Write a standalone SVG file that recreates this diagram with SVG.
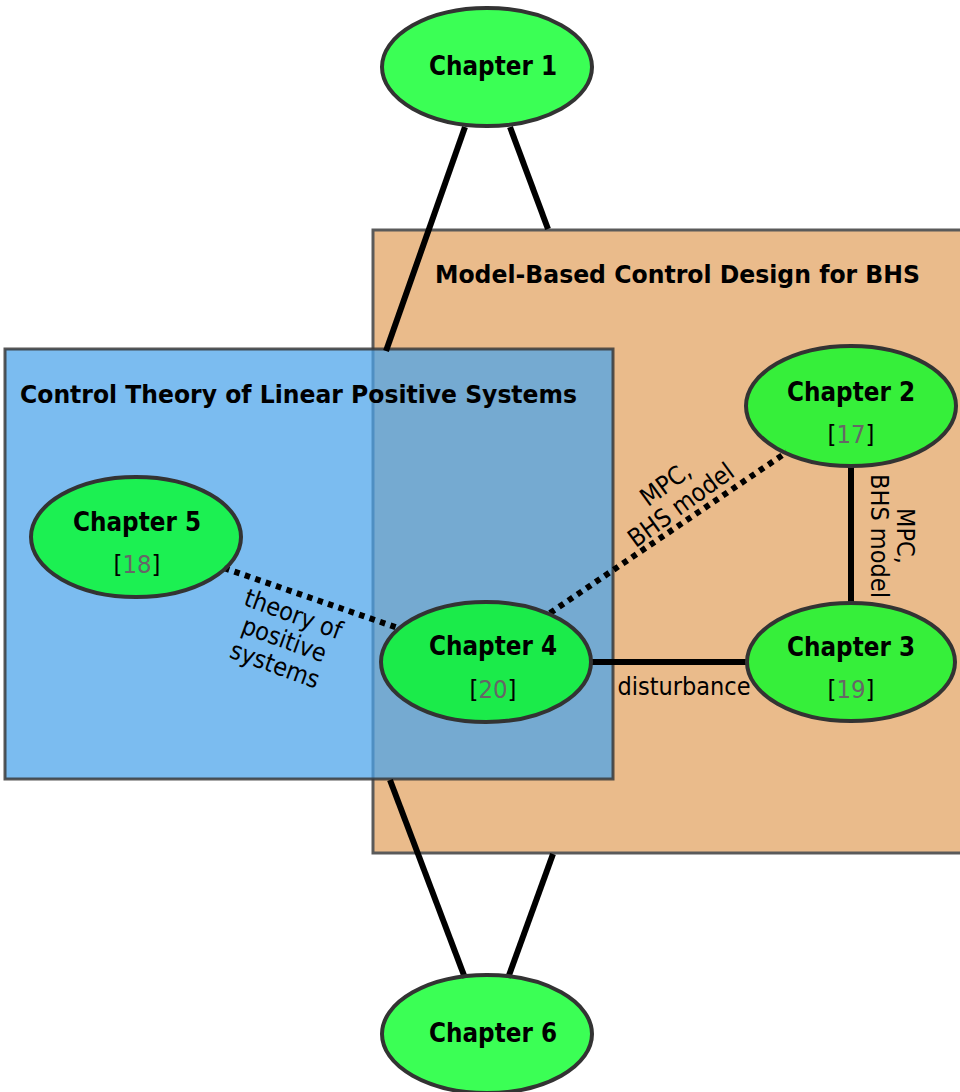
<svg xmlns="http://www.w3.org/2000/svg" width="960" height="1092" viewBox="0 0 960 1092">
  <style>
    .node ellipse { fill: #00ff22; fill-opacity: 0.77; stroke: #333333; stroke-width: 4; }
    .title { font-family: "DejaVu Sans", Verdana, sans-serif; font-weight: bold; font-size: 26px; fill: #000000; text-anchor: middle; }
    .ref { font-family: "DejaVu Sans", Verdana, sans-serif; font-size: 25px; fill: #000000; text-anchor: middle; }
    .ref tspan.num { fill: #666666; }
    .lbl { font-family: "DejaVu Sans", Verdana, sans-serif; font-size: 25px; fill: #000000; text-anchor: middle; }
    .boxtitle { font-family: "DejaVu Sans", Verdana, sans-serif; font-weight: bold; font-size: 25px; fill: #000000; }
    .solid { stroke: #000000; stroke-width: 6; fill: none; }
    .dotted { stroke: #000000; stroke-width: 6; fill: none; stroke-dasharray: 5.5 5.5; }
  </style>

  <rect width="960" height="1092" fill="#ffffff"/>

  <!-- clusters -->
  <g id="cluster-bhs">
    <rect x="373" y="230" width="589" height="623" fill="#eabb8b" stroke="#5a5a5a" stroke-width="3"/>
    <text class="boxtitle" x="435" y="283" textLength="485" lengthAdjust="spacingAndGlyphs">Model-Based Control Design for BHS</text>
  </g>
  <g id="cluster-positive">
    <rect x="5" y="349" width="608" height="430" fill="#4aa3ea" fill-opacity="0.73" stroke="#3a3a3a" stroke-opacity="0.85" stroke-width="3"/>
    <text class="boxtitle" x="20" y="403" textLength="557" lengthAdjust="spacingAndGlyphs">Control Theory of Linear Positive Systems</text>
  </g>

  <!-- connectors -->
  <g id="edges">
    <line class="solid" x1="465" y1="127" x2="386" y2="351"/>
    <line class="solid" x1="510" y1="127" x2="548" y2="229"/>
    <line class="solid" x1="390" y1="780" x2="465" y2="978"/>
    <line class="solid" x1="553" y1="854" x2="508" y2="978"/>
    <line class="dotted" x1="224" y1="568" x2="398" y2="628"/>
    <line class="dotted" x1="550" y1="613" x2="787" y2="452"/>
    <line class="solid" x1="851" y1="466" x2="851" y2="603"/>
    <line class="solid" x1="591" y1="662" x2="748" y2="662"/>

    <g transform="translate(284,640) rotate(20)">
      <text class="lbl" x="0" y="-19" textLength="102" lengthAdjust="spacingAndGlyphs">theory of</text>
      <text class="lbl" x="0" y="8" textLength="88" lengthAdjust="spacingAndGlyphs">positive</text>
      <text class="lbl" x="0" y="35" textLength="93" lengthAdjust="spacingAndGlyphs">systems</text>
    </g>
    <g transform="translate(673,494) rotate(-36)">
      <text class="lbl" x="0" y="-4" textLength="56" lengthAdjust="spacingAndGlyphs">MPC,</text>
      <text class="lbl" x="0" y="22" textLength="124" lengthAdjust="spacingAndGlyphs">BHS model</text>
    </g>
    <g transform="translate(892,536) rotate(90)">
      <text class="lbl" x="0" y="-5" textLength="56" lengthAdjust="spacingAndGlyphs">MPC,</text>
      <text class="lbl" x="0" y="21" textLength="124" lengthAdjust="spacingAndGlyphs">BHS model</text>
    </g>
    <text class="lbl" x="684" y="695" textLength="133" lengthAdjust="spacingAndGlyphs">disturbance</text>
  </g>

  <!-- chapters -->
  <g id="chapter1" class="node">
    <ellipse cx="487" cy="67" rx="105" ry="59"/>
    <text class="title" x="493" y="75" textLength="128" lengthAdjust="spacingAndGlyphs">Chapter 1</text>
  </g>
  <g id="chapter2" class="node">
    <ellipse cx="851" cy="406" rx="105" ry="60"/>
    <text class="title" x="851" y="401" textLength="128" lengthAdjust="spacingAndGlyphs">Chapter 2</text>
    <text class="ref" x="851" y="443" textLength="47" lengthAdjust="spacingAndGlyphs">[<tspan class="num">17</tspan>]</text>
  </g>
  <g id="chapter3" class="node">
    <ellipse cx="851" cy="662" rx="104" ry="59"/>
    <text class="title" x="851" y="656" textLength="128" lengthAdjust="spacingAndGlyphs">Chapter 3</text>
    <text class="ref" x="851" y="698" textLength="47" lengthAdjust="spacingAndGlyphs">[<tspan class="num">19</tspan>]</text>
  </g>
  <g id="chapter4" class="node">
    <ellipse cx="486" cy="662" rx="105" ry="60"/>
    <text class="title" x="493" y="655" textLength="128" lengthAdjust="spacingAndGlyphs">Chapter 4</text>
    <text class="ref" x="493" y="698" textLength="47" lengthAdjust="spacingAndGlyphs">[<tspan class="num">20</tspan>]</text>
  </g>
  <g id="chapter5" class="node">
    <ellipse cx="136" cy="537" rx="105" ry="60"/>
    <text class="title" x="137" y="531" textLength="128" lengthAdjust="spacingAndGlyphs">Chapter 5</text>
    <text class="ref" x="137" y="573" textLength="47" lengthAdjust="spacingAndGlyphs">[<tspan class="num">18</tspan>]</text>
  </g>
  <g id="chapter6" class="node">
    <ellipse cx="487" cy="1034" rx="105" ry="59"/>
    <text class="title" x="493" y="1042" textLength="128" lengthAdjust="spacingAndGlyphs">Chapter 6</text>
  </g>
</svg>
